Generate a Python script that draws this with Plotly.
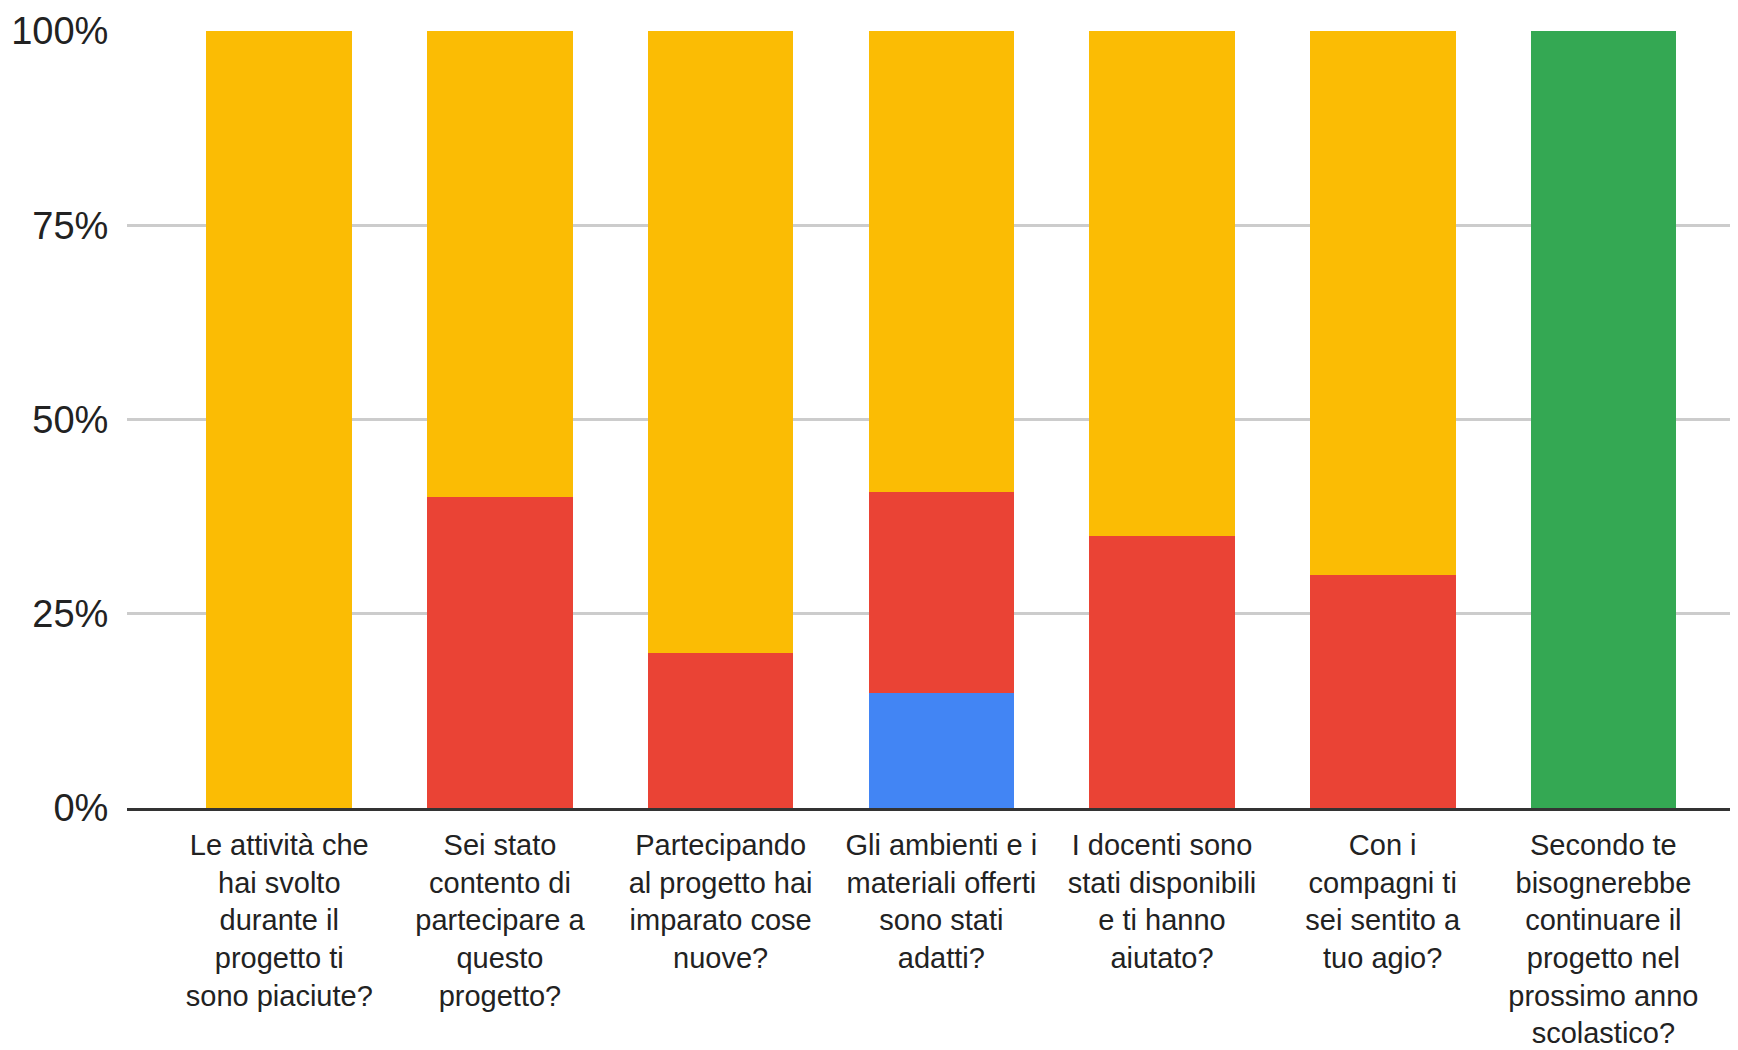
import plotly.graph_objects as go

categories = [
    "Le attività che<br>hai svolto<br>durante il<br>progetto ti<br>sono piaciute?",
    "Sei stato<br>contento di<br>partecipare a<br>questo<br>progetto?",
    "Partecipando<br>al progetto hai<br>imparato cose<br>nuove?",
    "Gli ambienti e i<br>materiali offerti<br>sono stati<br>adatti?",
    "I docenti sono<br>stati disponibili<br>e ti hanno<br>aiutato?",
    "Con i<br>compagni ti<br>sei sentito a<br>tuo agio?",
    "Secondo te<br>bisognerebbe<br>continuare il<br>progetto nel<br>prossimo anno<br>scolastico?",
]

series_names = ["Poco", "Abbastanza", "Molto", "Sì"]
poco = [0, 0, 0, 14.8, 0, 0, 0]
abbastanza = [0, 40, 20, 25.9, 35, 30, 0]
molto = [100, 60, 80, 59.3, 65, 70, 0]
si = [0, 0, 0, 0, 0, 0, 100]
series_values = [poco, abbastanza, molto, si]
series_colors = ["#4285F4", "#EA4335", "#FBBC04", "#34A853"]

tick_vals = [0, 25, 50, 75, 100]
tick_text = ["0%", "25%", "50%", "75%", "100%"]

FONT = "Liberation Sans, Arial, sans-serif"

fig = go.Figure()
for name, vals, col in zip(series_names, series_values, series_colors):
    fig.add_trace(go.Bar(x=categories, y=vals, name=name, marker_color=col,
                         marker_line_width=0))

fig.update_layout(
    width=1730, height=1042,
    margin=dict(l=119, r=0, t=23, b=242, pad=0),
    barmode="stack", bargap=0.34,
    showlegend=False,
    plot_bgcolor="white", paper_bgcolor="white",
    font=dict(family=FONT, color="#222222"),
)
fig.update_xaxes(
    range=[-0.69, 6.61], tickfont=dict(size=29, family=FONT, color="#222222"),
    showline=True, linecolor="#333333", linewidth=3,
    ticks="outside", ticklen=9, tickcolor="rgba(0,0,0,0)", tickangle=0,
    showgrid=False,
)
fig.update_yaxes(
    range=[0, 100], tickvals=tick_vals, ticktext=tick_text,
    tickfont=dict(size=38, family=FONT, color="#222222"),
    showgrid=True, gridcolor="#cccccc", gridwidth=2.5, zeroline=False,
    ticks="outside", ticklen=10, tickcolor="rgba(0,0,0,0)",
)
fig.write_html("out.html")
